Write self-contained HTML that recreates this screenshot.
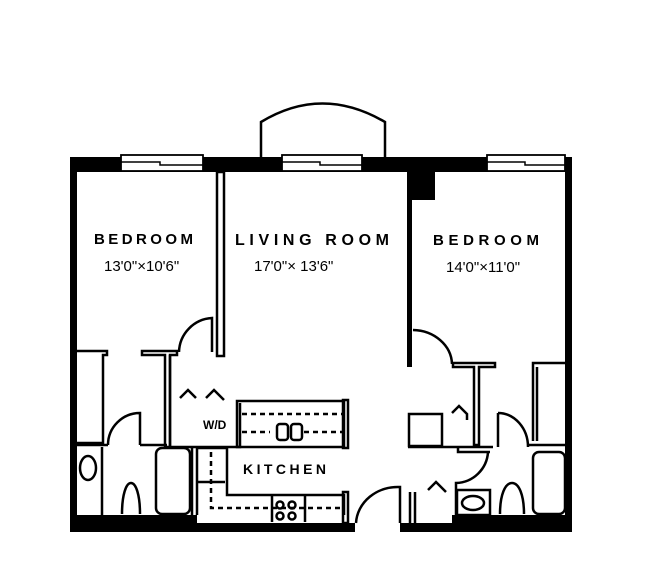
<!DOCTYPE html>
<html><head><meta charset="utf-8"><style>
html,body{margin:0;padding:0;background:#fff;}
svg{display:block;}
text{font-family:"Liberation Sans",sans-serif;fill:#000;}
</style></head><body>
<svg width="650" height="585" viewBox="0 0 650 585" xmlns="http://www.w3.org/2000/svg">
<g fill="none" stroke="#000" stroke-width="2.5">
<path d="M261 157 V122 Q322 85 385 122 V157"/>
</g>
<g fill="#000">
<rect x="70" y="157" width="502" height="15"/>
<rect x="70" y="157" width="7" height="375"/>
<rect x="565" y="157" width="7" height="375"/>
<rect x="70" y="515" width="127" height="17"/>
<rect x="197" y="523" width="158" height="9"/>
<rect x="400" y="523" width="52" height="9"/>
<rect x="452" y="515" width="120" height="17"/>
<rect x="407" y="172" width="28" height="28"/>
<rect x="407" y="200" width="5" height="167"/>
</g>
<g fill="#fff" stroke="#000" stroke-width="1.8">
<rect x="121" y="155" width="82" height="16"/>
<rect x="282" y="155" width="80" height="16"/>
<rect x="487" y="155" width="78" height="16"/>
</g>
<g fill="none" stroke="#000" stroke-width="1.5">
<path d="M121 162 H160 V165 H203"/>
<path d="M282 162 H320 V165 H362"/>
<path d="M487 162 H525 V165 H565"/>
</g>
<g fill="none" stroke="#000" stroke-width="2.5">
<rect x="217" y="172" width="7" height="184" fill="#fff"/>
<path d="M179 352 A35 35 0 0 1 212 318 V352"/>
<path d="M77 351 H107 V355 H103 V443 H77"/>
<path d="M77 445 H108 M140 445 H167"/>
<path d="M108 445 A32 32 0 0 1 140 413 V445"/>
<path d="M142 351 H177 V355 H170 V447 H165 V355 H142 Z"/>
<path d="M170 447 H240 V403 M170 355 V447"/>
<path d="M180 398 L188 390 L196 398 M206 398 L214 390 L224 400"/>
<rect x="237" y="401" width="107" height="46"/>
<rect x="343" y="400" width="5" height="48" />
<path d="M242 414 H343 M242 432 H270 M304 432 H343" stroke-dasharray="5 4"/>
<rect x="277" y="424" width="11" height="16" rx="3"/>
<rect x="291" y="424" width="11" height="16" rx="3"/>
<path d="M102 447 V515"/>
<ellipse cx="88" cy="468" rx="8" ry="12"/>
<path d="M122 514 C122 495 126 483 131 483 C136 483 140 495 140 514"/>
<rect x="156" y="448" width="34" height="66" rx="6"/>
<path d="M192 447 V515 M197 447 V515"/>
<path d="M197 448 H227 V495 H344 V515 M197 482 H225"/>
<path d="M211 452 V508 H343" stroke-dasharray="5 4"/>
<path d="M272 495 V522 M305 495 V522"/>
<circle cx="280" cy="505" r="3.5"/><circle cx="292" cy="505" r="3.5"/>
<circle cx="280" cy="516" r="3.5"/><circle cx="292" cy="516" r="3.5"/>
<rect x="343" y="492" width="5" height="31"/>
<path d="M356 523 A42 38 0 0 1 400 487 V523"/>
<path d="M413 330 A40 35 0 0 1 452 364"/>
<path d="M453 363 H495 V367 H479 V445 H474 V367 H453 Z"/>
<rect x="409" y="414" width="33" height="32"/>
<path d="M408 447 H493 M458 447 V452 H490"/>
<path d="M452 413 L459 406 L467 414 V420"/>
<path d="M566 363 H533 V441 M537 367 V441 M527 445 H566"/>
<path d="M498 413 V447 M498 413 A30 34 0 0 1 528 447"/>
<path d="M488 452 A33 33 0 0 1 456 483 V522"/>
<rect x="457" y="490" width="33" height="25"/>
<ellipse cx="473" cy="503" rx="11" ry="7"/>
<path d="M500 514 C500 495 505 483 512 483 C519 483 524 495 524 514"/>
<rect x="533" y="452" width="32" height="62" rx="6"/>
<path d="M428 490 L436 482 L446 492 M410 492 V523 M415 492 V523"/>
</g>
<g font-size="15" letter-spacing="1" font-weight="bold">
<text x="94" y="244" font-size="15" textLength="100">BEDROOM</text>
<text x="104" y="271" font-size="15" font-weight="normal" letter-spacing="0">13'0"×10'6"</text>
<text x="235" y="245" font-size="16" textLength="155">LIVING ROOM</text>
<text x="254" y="271" font-size="15" font-weight="normal" letter-spacing="0">17'0"× 13'6"</text>
<text x="433" y="245" font-size="15" textLength="107">BEDROOM</text>
<text x="446" y="272" font-size="15" font-weight="normal" letter-spacing="0">14'0"×11'0"</text>
<text x="243" y="474" font-size="14" textLength="84">KITCHEN</text>
<text x="203" y="429" font-size="12" letter-spacing="0">W/D</text>
</g>
</svg>
</body></html>
